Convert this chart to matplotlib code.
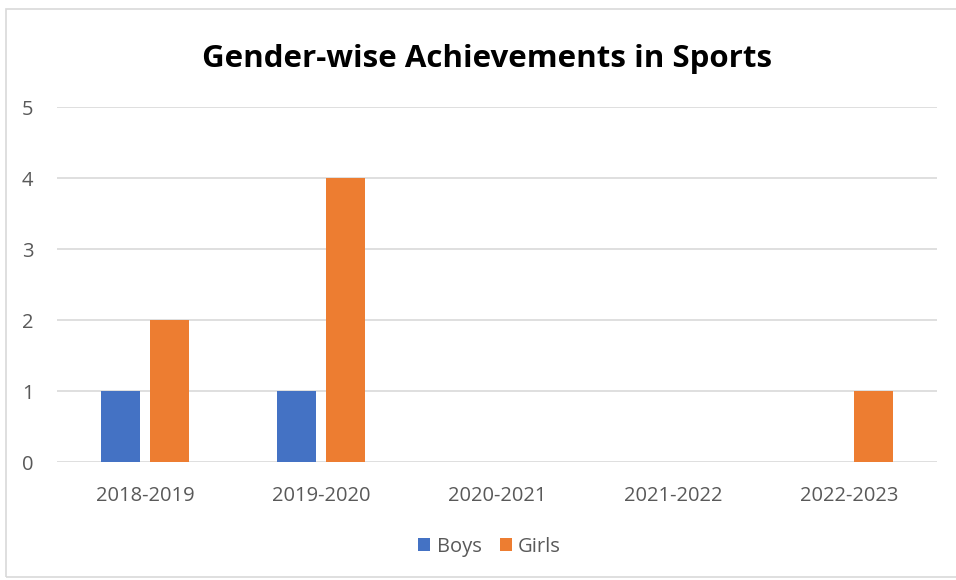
import numpy as np
import matplotlib.pyplot as plt
from matplotlib.patches import Rectangle

# Achievements per academic year, split by gender
years = ['2018-2019', '2019-2020', '2020-2021', '2021-2022', '2022-2023']
boys = [1, 1, 0, 0, 0]
girls = [2, 4, 0, 0, 1]

BLUE = '#4472c4'
ORANGE = '#ed7d31'
GRID = '#d9d9d9'
TEXT = '#595959'

plt.rcParams['font.family'] = ['Open Sans', 'DejaVu Sans']

fig = plt.figure(figsize=(9.56, 5.8), dpi=100)
ax = fig.add_axes([0.0596, 0.2034, 0.9204, 0.6121])

# outer chart frame
fig.patches.append(Rectangle((6 / 956, 3 / 580), 1.2, 568 / 580, transform=fig.transFigure,
                             fill=False, edgecolor='#d9d9d9', linewidth=1.2))

x = np.arange(len(years))
w = 0.22
ax.bar(x - 0.14, boys, w, color=BLUE, label='Boys', zorder=3)
ax.bar(x + 0.14, girls, w, color=ORANGE, label='Girls', zorder=3)

ax.set_xlim(-0.5, len(years) - 0.5)
ax.set_ylim(0, 5)
ax.set_yticks(range(6))
ax.set_xticks(x)
ax.set_xticklabels(years)
ax.yaxis.grid(True, color=GRID, linewidth=1.2, zorder=0)
ax.set_axisbelow(True)
for s in ax.spines.values():
    s.set_visible(False)
ax.tick_params(length=0, labelsize=14.5, colors=TEXT)
ax.tick_params(axis='x', pad=17)
ax.tick_params(axis='y', pad=17)

fig.text(0.509, 0.898, 'Gender-wise Achievements in Sports', ha='center', va='center',
         fontsize=22.5, fontweight='bold', color='black')

fig.legend(loc='center', bbox_to_anchor=(0.512, 0.057), ncol=2, frameon=False,
           fontsize=14.5, handlelength=0.6, handleheight=0.6, handletextpad=0.3,
           columnspacing=0.9, labelcolor=TEXT)

fig.savefig('out.png', dpi=100, facecolor='white')
